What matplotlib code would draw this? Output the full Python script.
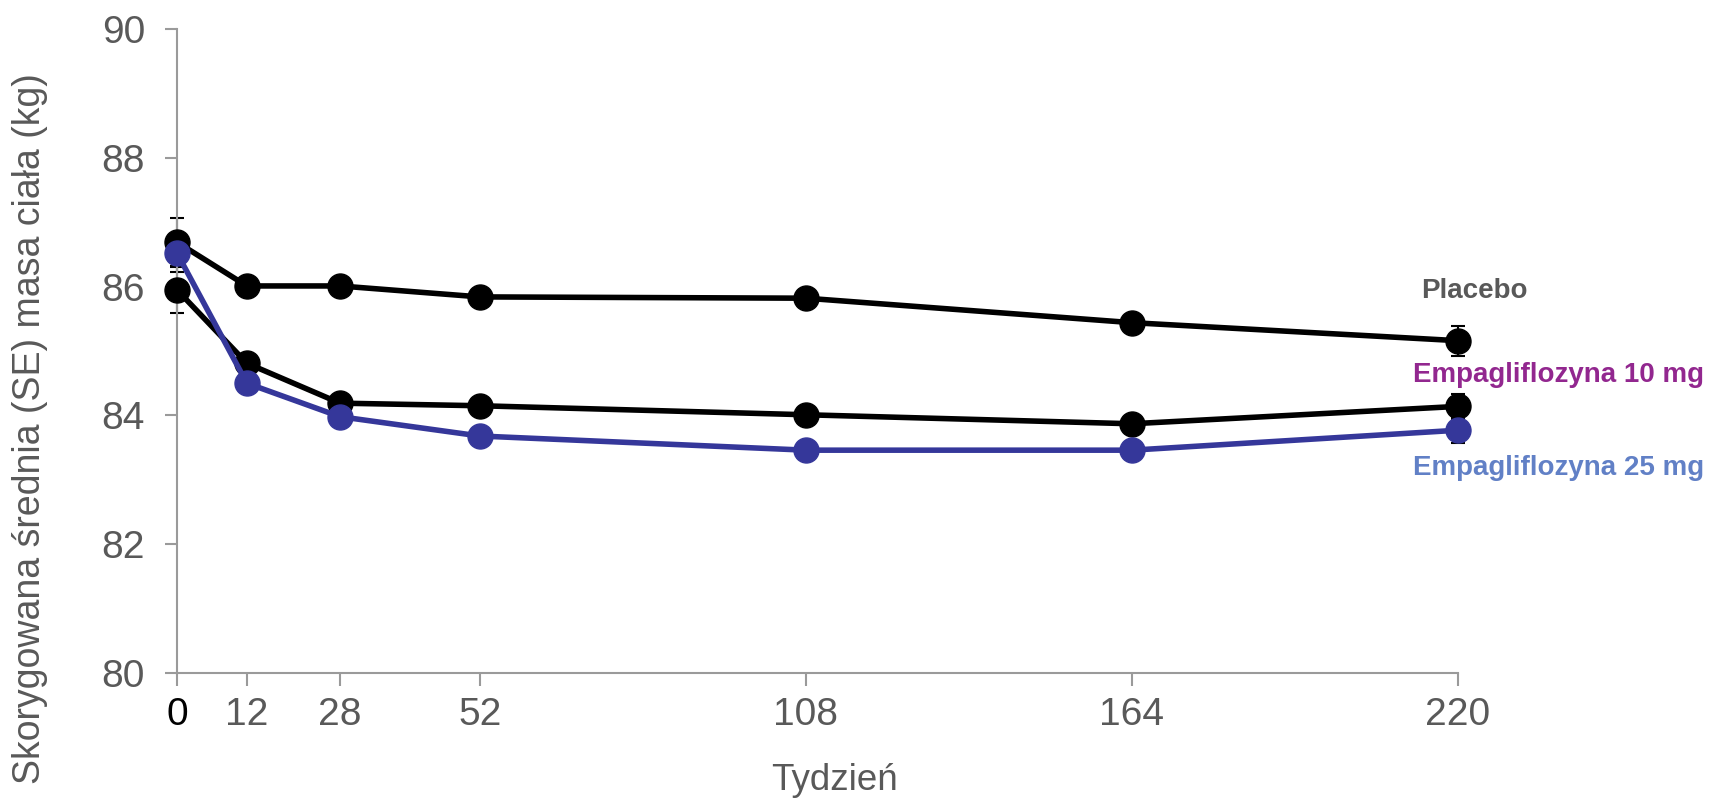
import matplotlib
matplotlib.use("Agg")
import matplotlib.pyplot as plt

plt.rcParams['font.family'] = ['Liberation Sans', 'DejaVu Sans']

# weeks and adjusted mean body weight (kg) with SE
weeks = [0, 12, 28, 52, 108, 164, 220]
placebo = [86.69, 86.01, 86.01, 85.84, 85.82, 85.44, 85.16]
placebo_se = [0.37, 0.10, 0.11, 0.12, 0.13, 0.14, 0.23]
empa10 = [85.95, 84.81, 84.19, 84.15, 84.01, 83.87, 84.14]
empa10_se = [0.36, 0.10, 0.11, 0.12, 0.13, 0.14, 0.20]
empa25 = [86.52, 84.50, 83.98, 83.68, 83.46, 83.46, 83.77]
empa25_se = [0.30, 0.10, 0.11, 0.12, 0.13, 0.14, 0.20]

series_labels = ["Placebo", "Empagliflozyna 10 mg", "Empagliflozyna 25 mg"]
y_ticks = [80, 82, 84, 86, 88, 90]

grey = '#595959'
axis_grey = '#9a9a9a'

fig = plt.figure(figsize=(17.10, 8.01), dpi=100)
ax = fig.add_axes([0.1035, 0.1598, 0.7491, 0.8040])

# error bars first, lines and markers on top
for vals, se in [(placebo, placebo_se), (empa10, empa10_se), (empa25, empa25_se)]:
    ax.errorbar(weeks, vals, yerr=se, fmt='none', ecolor='black',
                elinewidth=1.5, capsize=5, capthick=1.5, clip_on=False, zorder=2)

ax.plot(weeks, placebo, color='black', lw=4, marker='o', ms=18,
        clip_on=False, zorder=3)
ax.plot(weeks, empa10, color='black', lw=4, marker='o', ms=18,
        clip_on=False, zorder=3)
ax.plot(weeks, empa25, color='#35379a', lw=4, marker='o', ms=18,
        clip_on=False, zorder=4)

# series names at the right end
ax.text(222.9, 85.93, series_labels[0], color=grey, fontsize=20,
        fontweight='bold', ha='center', va='center', clip_on=False)
ax.text(212.3, 84.63, series_labels[1], color='#92278f', fontsize=20,
        fontweight='bold', ha='left', va='center', clip_on=False)
ax.text(212.3, 83.18, series_labels[2], color='#6180c6', fontsize=20,
        fontweight='bold', ha='left', va='center', clip_on=False)

ax.set_xlim(0, 220)
ax.set_ylim(80, 90)
ax.set_xticks(weeks)
ax.set_xticklabels([str(w) for w in weeks])
ax.set_yticks(y_ticks)

for side in ['top', 'right']:
    ax.spines[side].set_visible(False)
for side in ['left', 'bottom']:
    ax.spines[side].set_color(axis_grey)
    ax.spines[side].set_linewidth(1.5)

ax.tick_params(axis='both', direction='out', length=9, width=1.5,
               color=axis_grey, labelsize=28, labelcolor=grey)
ax.tick_params(axis='y', pad=14)
ax.tick_params(axis='x', pad=8)
ax.get_xticklabels()[0].set_color('black')

ax.set_xlabel("Tydzień", fontsize=26.5, color=grey)
ax.xaxis.set_label_coords(0.513, -0.14)
ax.set_ylabel("Skorygowana średnia (SE) masa ciała (kg)", fontsize=27,
              color=grey)
ax.yaxis.set_label_coords(-0.101, 0.379)

fig.savefig("out.png", dpi=100)
